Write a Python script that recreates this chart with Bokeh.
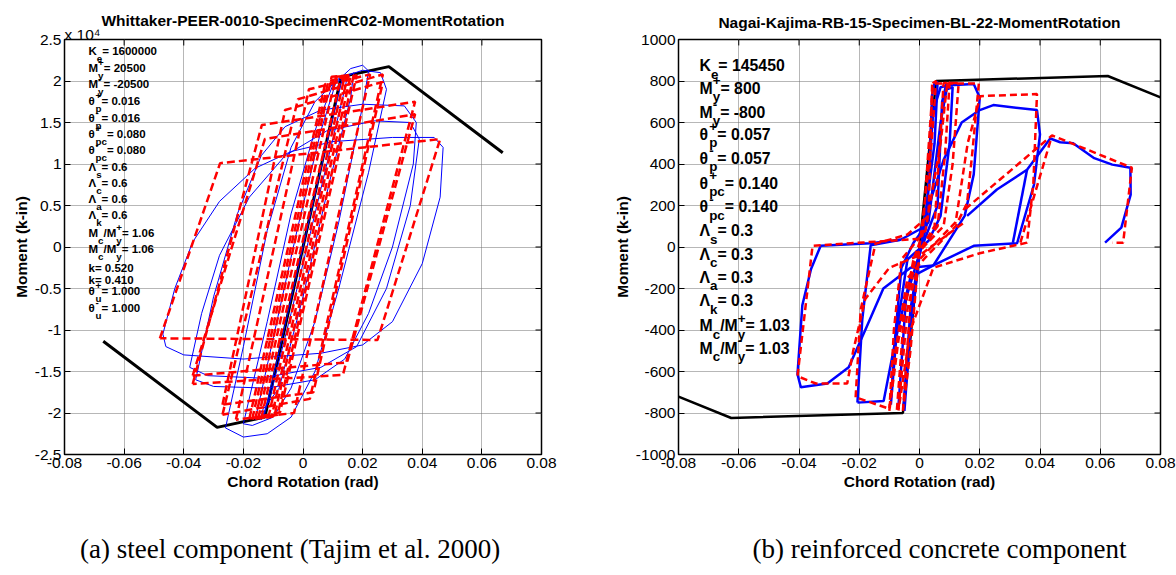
from bokeh.plotting import figure
from bokeh.models import FixedTicker, Range1d, Title, ColumnDataSource
from bokeh.layouts import row, column
from bokeh.embed import file_html
from bokeh.resources import INLINE
from bokeh.core.properties import value

# ---------------- data ----------------
X_TICKS = [-0.08, -0.06, -0.04, -0.02, 0.0, 0.02, 0.04, 0.06, 0.08]
X_TICK_LABELS = ["-0.08", "-0.06", "-0.04", "-0.02", "0", "0.02", "0.04", "0.06", "0.08"]
L_Y_TICKS = [-25000, -20000, -15000, -10000, -5000, 0, 5000, 10000, 15000, 20000, 25000]
L_Y_TICK_LABELS = ["-2.5", "-2", "-1.5", "-1", "-0.5", "0", "0.5", "1", "1.5", "2", "2.5"]
R_Y_TICKS = [-1000, -800, -600, -400, -200, 0, 200, 400, 600, 800, 1000]
R_Y_TICK_LABELS = ["-1000", "-800", "-600", "-400", "-200", "0", "200", "400", "600", "800", "1000"]

L_TITLE = "Whittaker-PEER-0010-SpecimenRC02-MomentRotation"
R_TITLE = "Nagai-Kajima-RB-15-Specimen-BL-22-MomentRotation"
L_EXPONENT = "x 10\u2074"
X_LABEL = "Chord Rotation (rad)"
Y_LABEL = "Moment (k-in)"
CAPTIONS = ["(a) steel component (Tajim et al. 2000)", "(b) reinforced concrete component"]

# backbone (black)
L_BACK_X = [-0.067, -0.0288, -0.0128, 0.0128, 0.0288, 0.067]
L_BACK_Y = [-11350, -21730, -20500, 20500, 21730, 11350]
R_BACK_X = [-0.080, -0.0625, -0.0055, 0.0055, 0.0625, 0.080]
R_BACK_Y = [-721, -824, -800, 800, 824, 721]

# left model loops (red dashed)
L_RED = [
    [(-0.0140, -20600), (0.0128, 20500), (0.0140, 20600), (-0.0116, -20500), (-0.0140, -20600)],
    [(-0.0150, -20600), (0.0110, 20500), (0.0150, 20650), (-0.0105, -20450), (-0.0150, -20600)],
    [(-0.0160, -20700), (0.0096, 20500), (0.0160, 20700), (-0.0096, -20400), (-0.0160, -20700)],
    [(-0.0170, -20700), (0.0085, 20000), (0.0170, 20700), (-0.0085, -20200), (-0.0170, -20700)],
    [(-0.0180, -20700), (0.0074, 19600), (0.0180, 20700), (-0.0077, -19900), (-0.0180, -20700)],
    [(-0.0225, -20800), (0.0020, 19000), (0.0225, 20800), (-0.0030, -20000), (-0.0225, -20800)],
    [(-0.0270, -20200), (-0.0017, 17800), (0.0268, 20800), (0.0023, -18300), (-0.0270, -20200)],
    [(-0.0270, -19000), (-0.0060, 16500), (0.0268, 19900), (0.0035, -17500), (-0.0270, -19000)],
    [(-0.0370, -16500), (-0.0138, 14700), (0.0376, 17500), (0.0134, -15400), (-0.0370, -16500)],
    [(-0.0370, -15500), (-0.0128, 13000), (0.0376, 16000), (0.0148, -13900), (-0.0370, -15500)],
    [(-0.0480, -11000), (-0.0278, 10100), (0.0460, 13000), (0.0250, -11200), (-0.0480, -11000)],
]
# left test loops (blue)
L_BLUE = [
    [(-0.013, -20300), (-0.008, -12500), (0.000, 0), (0.008, 12500), (0.013, 20000), (0.015, 20800),
     (0.014, 19000), (0.006, 7000), (-0.004, -8000), (-0.011, -18000), (-0.014, -20800), (-0.013, -20300)],
    [(-0.016, -20800), (-0.010, -11000), (-0.002, 2000), (0.006, 14000), (0.011, 19800), (0.017, 21000),
     (0.016, 18000), (0.009, 8000), (0.000, -6000), (-0.008, -17000), (-0.016, -20800)],
    [(-0.020, -21300), (-0.012, -9000), (-0.004, 4000), (0.004, 14000), (0.010, 19500), (0.016, 21500),
     (0.020, 21900), (0.022, 21200), (0.020, 17000), (0.012, 3000), (0.004, -9000), (-0.004, -17000),
     (-0.010, -20500), (-0.017, -21500), (-0.020, -21300)],
    [(-0.026, -21800), (-0.020, -12000), (-0.012, 2000), (-0.004, 12000), (0.004, 17500), (0.012, 20300),
     (0.020, 21300), (0.026, 21000), (0.028, 19000), (0.022, 9000), (0.012, -5000), (0.004, -15000),
     (-0.004, -20500), (-0.012, -22500), (-0.020, -22900), (-0.026, -21800)],
    [(-0.036, -16000), (-0.030, -6000), (-0.022, 4000), (-0.014, 11000), (-0.006, 14500), (0.006, 16500),
     (0.020, 17200), (0.034, 17000), (0.038, 15000), (0.037, 10000), (0.030, 0), (0.022, -8000),
     (0.014, -13500), (0.004, -16000), (-0.012, -17000), (-0.030, -16800), (-0.036, -16000)],
    [(-0.038, -14500), (-0.034, -8000), (-0.028, -1000), (-0.018, 6000), (-0.006, 11000), (0.008, 14000),
     (0.024, 15200), (0.036, 15000), (0.039, 13000), (0.036, 5000), (0.028, -5000), (0.018, -12000),
     (0.006, -14500), (-0.014, -15800), (-0.032, -15500), (-0.038, -14500)],
    [(-0.047, -10500), (-0.043, -5000), (-0.037, 600), (-0.028, 5500), (-0.016, 9500), (-0.004, 11500),
     (0.010, 12700), (0.030, 13200), (0.044, 13200), (0.047, 12000), (0.046, 6000), (0.040, -2000),
     (0.030, -9000), (0.020, -11800), (0.006, -12800), (-0.020, -13500), (-0.040, -13000),
     (-0.046, -12000), (-0.047, -10500)],
]

# right model loops (red dashed)
R_RED = [
    [(-0.0055, -790), (-0.0020, -60), (0.0010, 60), (0.0045, 790), (0.0055, 800), (0.0040, 500),
     (0.0000, 0), (-0.0030, -500), (-0.0055, -790)],
    [(-0.0075, -785), (-0.0050, -300), (-0.0010, -40), (0.0050, 100), (0.0080, 790), (0.0130, 790),
     (0.0110, 400), (0.0080, 100), (0.0000, -20)],
    [(-0.0100, -790), (-0.0085, -400), (-0.0060, -60), (0.0020, 80), (0.0070, 500), (0.0092, 790),
     (0.0100, 795), (0.0085, 450), (0.0060, 100), (-0.0020, -60), (-0.0070, -450), (-0.0100, -790)],
    [(-0.0212, -724), (-0.0195, -300), (-0.0146, 16), (-0.0040, 60), (0.0030, 150), (0.0042, 788),
     (0.0197, 788), (0.0175, 450), (0.0158, 212), (0.0120, 100), (0.0020, -50), (-0.0040, -150),
     (-0.0080, -500), (-0.0100, -780), (-0.0212, -724)],
    [(-0.0070, -788), (-0.0040, -300), (0.0000, -60), (0.0120, 120), (0.0160, 500), (0.0202, 727),
     (0.0390, 737), (0.0378, 308), (0.0357, 21), (0.0200, -30), (0.0046, -100), (-0.0030, -400),
     (-0.0070, -788)],
    [(0.0000, 40), (-0.0100, 30), (-0.0355, 6), (-0.0405, -623), (-0.0344, -658), (-0.0240, -658),
     (-0.0220, -500), (-0.0180, -250), (-0.0100, -100), (0.0000, -40), (0.0150, 120)],
    [(0.0152, 183), (0.0440, 538), (0.0705, 382), (0.0676, 21), (0.0640, 21)],
    [(0.0335, 21), (0.0440, 538)],
]
# right test loops (blue)
R_BLUE = [
    [(-0.0050, -790), (-0.0030, -400), (0.0000, -40), (0.0025, 117), (0.0042, 737), (0.0050, 790),
     (0.0060, 795), (0.0050, 500), (0.0010, 50), (-0.0030, -300), (-0.0053, -773)],
    [(-0.0070, -770), (-0.0045, -250), (0.0000, -30), (0.0060, 200), (0.0075, 700), (0.0090, 790)],
    [(-0.0095, -760), (-0.0085, -500), (-0.0060, -100), (-0.0020, 20), (0.0030, 120), (0.0070, 600),
     (0.0090, 760), (0.0110, 770), (0.0100, 500), (0.0070, 150), (0.0030, 30), (-0.0040, -60),
     (-0.0075, -400), (-0.0095, -760)],
    [(-0.0206, -750), (-0.0190, -350), (-0.0162, 8), (-0.0063, 35), (0.0020, 100), (0.0045, 650),
     (0.0070, 770), (0.0100, 780), (0.0180, 785), (0.0200, 720), (0.0180, 350), (0.0150, 150),
     (0.0046, -89), (-0.0030, -146), (-0.0080, -450), (-0.0119, -742), (-0.0206, -750)],
    [(0.0000, 60), (0.0080, 420), (0.0140, 600), (0.0200, 660), (0.0245, 684), (0.0390, 660),
     (0.0400, 543), (0.0380, 300), (0.0340, 100), (0.0324, 18), (0.0180, 6), (0.0046, -89)],
    [(-0.0063, 35), (-0.0162, 18), (-0.0328, 6), (-0.0360, -106), (-0.0389, -281), (-0.0405, -613),
     (-0.0394, -676), (-0.0306, -658), (-0.0235, -580), (-0.0180, -400), (-0.0120, -200),
     (-0.0030, -100), (0.0046, -89)],
    [(0.0158, 150), (0.0257, 277), (0.0357, 372), (0.0434, 523), (0.0467, 505), (0.0510, 500),
     (0.0580, 428), (0.0640, 397), (0.0700, 382), (0.0701, 252), (0.0670, 93), (0.0616, 21)],
    [(0.0310, 21), (0.0357, 372)],
]

# parameter annotations
L_PARAM_VALUES = ["1600000", "20500", "-20500", "0.016", "0.016", "0.080", "0.080",
                  "0.6", "0.6", "0.6", "0.6", "1.06", "1.06", "0.520", "0.410", "1.000", "1.000"]
R_PARAM_VALUES = ["145450", "800", "-800", "0.057", "0.057", "0.140", "0.140",
                  "0.3", "0.3", "0.3", "0.3", "1.03", "1.03"]

SYM = {
    "Ke": [("K", "n"), ("e", "sub")],
    "My+": [("M", "n"), ("+", "sup"), ("y", "sub")],
    "My-": [("M", "n"), ("-", "sup"), ("y", "sub")],
    "tp+": [("θ", "n"), ("+", "sup"), ("p", "sub")],
    "tp-": [("θ", "n"), ("-", "sup"), ("p", "sub")],
    "tpc+": [("θ", "n"), ("+", "sup"), ("pc", "sub")],
    "tpc-": [("θ", "n"), ("-", "sup"), ("pc", "sub")],
    "Ls": [("Λ", "n"), ("s", "sub")],
    "Lc": [("Λ", "n"), ("c", "sub")],
    "La": [("Λ", "n"), ("a", "sub")],
    "Lk": [("Λ", "n"), ("k", "sub")],
    "Mc+": [("M", "n"), ("c", "sub"), ("/M", "n"), ("+", "sup"), ("y", "sub")],
    "Mc-": [("M", "n"), ("c", "sub"), ("/M", "n"), ("-", "sup"), ("y", "sub")],
    "k": [("k", "n")],
    "tu+": [("θ", "n"), ("+", "sup"), ("u", "sub")],
    "tu-": [("θ", "n"), ("-", "sup"), ("u", "sub")],
}
L_PARAM_SYMS = ["Ke", "My+", "My-", "tp+", "tp-", "tpc+", "tpc-", "Ls", "Lc", "La", "Lk",
                "Mc+", "Mc-", "k", "k", "tu+", "tu-"]
R_PARAM_SYMS = ["Ke", "My+", "My-", "tp+", "tp-", "tpc+", "tpc-", "Ls", "Lc", "La", "Lk",
                "Mc+", "Mc-"]

# ---------------- layout constants ----------------
FIG_W, FIG_H, CAP_H = 588, 505, 70
L_FRAME = dict(left=64, right=47, top=39, bottom=51)
R_FRAME = dict(left=90, right=16, top=35, bottom=51)
L_PARAM_ROWS = [50.7, 67.7, 83.3, 100.7, 117.3, 133.3, 149.3, 166, 182.7, 198.3, 214.3,
                232, 248, 267, 279, 290, 307]
R_PARAM_ROWS = [61.7, 84.3, 108.3, 130.7, 155, 180, 204, 228.3, 251.7, 275, 299, 324, 346.7]
CAP_X = [79.5, 752]
CAP_Y = [43, 43]

FONT = "Liberation Sans"
BOLD_W = {"K": 722, "M": 833, "θ": 611, "Λ": 667, "k": 556, "e": 556, "y": 556, "p": 611,
          "c": 556, "s": 556, "a": 556, "u": 611, "/": 278, "+": 584, "-": 333, " ": 278, "=": 584}


def tw(s, fs):
    return sum(BOLD_W.get(ch, 556) for ch in s) / 1000.0 * fs


def param_source(syms, vals, rows, x0, fs, sub_dy, sup_dy, top, frame_h, y0, y1):
    xs, ys, ts, fss = [], [], [], []
    for key, val, yp in zip(syms, vals, rows):
        segs = SYM[key] + [(" = " + val, "n")]
        x = x0
        i = 0
        while i < len(segs):
            t, k = segs[i]
            if k == "n":
                xs.append(x); ys.append(yp); ts.append(t); fss.append(fs)
                x += tw(t, fs)
                i += 1
            else:
                wmax = 0.0
                while i < len(segs) and segs[i][1] != "n":
                    t2, k2 = segs[i]
                    sfs = fs * 0.85
                    dy = sup_dy if k2 == "sup" else sub_dy
                    xs.append(x); ys.append(yp + dy); ts.append(t2); fss.append(sfs)
                    wmax = max(wmax, tw(t2, sfs))
                    i += 1
                x += wmax
    ydata = [y1 - (y - top) / frame_h * (y1 - y0) for y in ys]
    return ColumnDataSource(dict(x=[-0.08] * len(xs), xo=xs, y=ydata, t=ts,
                                 fs=["%.1fpx" % f for f in fss]))


def make_fig(title, frame, yr, yticks, ylabels):
    p = figure(width=FIG_W, height=FIG_H, x_range=Range1d(-0.08, 0.08), y_range=Range1d(*yr),
               output_backend="svg", toolbar_location=None, title=title,
               min_border_left=frame["left"], min_border_right=frame["right"],
               min_border_top=frame["top"], min_border_bottom=frame["bottom"])
    p.title.align = "center"
    p.title.text_font = FONT
    p.title.text_font_size = "15.5px"
    p.title.text_font_style = "bold"
    p.title.text_color = "black"
    p.outline_line_color = "black"
    p.outline_line_width = 1.5
    p.background_fill_color = "white"
    p.border_fill_color = "white"
    for ax, tk, lb in ((p.xaxis[0], X_TICKS, X_TICK_LABELS), (p.yaxis[0], yticks, ylabels)):
        ax.ticker = FixedTicker(ticks=tk)
        ax.major_label_overrides = {t: l for t, l in zip(tk, lb)}
        ax.major_label_text_font = FONT
        ax.major_label_text_font_size = "15.5px"
        ax.major_label_text_color = "black"
        ax.major_tick_in = 6
        ax.major_tick_out = 0
        ax.major_tick_line_color = "black"
        ax.minor_tick_line_color = None
        ax.axis_line_color = None
        ax.axis_label_text_font = FONT
        ax.axis_label_text_font_size = "15.5px"
        ax.axis_label_text_font_style = "bold"
        ax.axis_label_text_color = "black"
        ax.major_label_standoff = 3
        ax.axis_label_standoff = 2
    p.xaxis.axis_label = X_LABEL
    p.yaxis.axis_label = Y_LABEL
    for g, tk in ((p.xgrid, X_TICKS), (p.ygrid, yticks)):
        g.ticker = FixedTicker(ticks=tk)
        g.grid_line_color = "#6e6e6e"
        g.grid_line_dash = "1 1"
        g.grid_line_width = 1
    # inward tick marks on the top and right edges of the box
    fw = FIG_W - frame["left"] - frame["right"]
    fh = FIG_H - frame["top"] - frame["bottom"]
    dy = 6.0 / fh * (yr[1] - yr[0])
    dx = 6.0 / fw * 0.16
    p.segment(x0=X_TICKS, y0=[yr[1]] * len(X_TICKS), x1=X_TICKS, y1=[yr[1] - dy] * len(X_TICKS),
              line_color="black", line_width=1)
    p.segment(x0=[0.08] * len(yticks), y0=yticks, x1=[0.08 - dx] * len(yticks), y1=yticks,
              line_color="black", line_width=1)
    return p


def xs_ys(loops):
    return [[pt[0] for pt in lp] for lp in loops], [[pt[1] for pt in lp] for lp in loops]


# ---------------- left figure ----------------
p1 = make_fig(L_TITLE, L_FRAME, (-25000, 25000), L_Y_TICKS, L_Y_TICK_LABELS)
p1.title.vertical_align = "bottom"
p1.title.standoff = 4
exp_title = Title(text=L_EXPONENT, align="left", offset=0, vertical_align="top", standoff=-10,
                  text_font=FONT, text_font_size="15.5px", text_font_style="normal",
                  text_color="black")
p1.add_layout(exp_title, "above")
p1.line(L_BACK_X, L_BACK_Y, line_color="black", line_width=3)
bx, by = xs_ys(L_BLUE)
p1.multi_line(bx, by, line_color="#0000ff", line_width=1)
rx, ry = xs_ys(L_RED)
p1.multi_line(rx, ry, line_color="#ff0000", line_width=2.5, line_dash="8 4")
src1 = param_source(L_PARAM_SYMS, L_PARAM_VALUES, L_PARAM_ROWS, 24, 11.5, 7.5, -5.0,
                    L_FRAME["top"], FIG_H - L_FRAME["top"] - L_FRAME["bottom"], -25000, 25000)
p1.text(x="x", y="y", text="t", x_offset="xo", text_font_size="fs", source=src1,
        text_font=value(FONT), text_font_style="bold", text_baseline="middle",
        text_align="left", text_color="black")

# ---------------- right figure ----------------
p2 = make_fig(R_TITLE, R_FRAME, (-1000, 1000), R_Y_TICKS, R_Y_TICK_LABELS)
p2.title.vertical_align = "top"
p2.title.standoff = 13
p2.line(R_BACK_X, R_BACK_Y, line_color="black", line_width=2.5)
bx, by = xs_ys(R_BLUE)
p2.multi_line(bx, by, line_color="#0000ff", line_width=2.5)
rx, ry = xs_ys(R_RED)
p2.multi_line(rx, ry, line_color="#ff0000", line_width=2.5, line_dash="7 4")
src2 = param_source(R_PARAM_SYMS, R_PARAM_VALUES, R_PARAM_ROWS, 21, 15.8, 8.5, -7.5,
                    R_FRAME["top"], FIG_H - R_FRAME["top"] - R_FRAME["bottom"], -1000, 1000)
p2.text(x="x", y="y", text="t", x_offset="xo", text_font_size="fs", source=src2,
        text_font=value(FONT), text_font_style="bold", text_baseline="middle",
        text_align="left", text_color="black")

# ---------------- captions strip ----------------
cap = figure(width=2 * FIG_W, height=CAP_H, x_range=Range1d(0, 2 * FIG_W), y_range=Range1d(CAP_H, 0),
             output_backend="svg", toolbar_location=None, x_axis_type=None, y_axis_type=None,
             min_border=0)
cap.outline_line_color = None
cap.text(x=CAP_X, y=CAP_Y, text=CAPTIONS, text_font=value("Liberation Serif"),
         text_font_size="27px", text_baseline="middle", text_align="left", text_color="black")

layout = column(row(p1, p2), cap)
open("out.html", "w").write(file_html(layout, INLINE))
